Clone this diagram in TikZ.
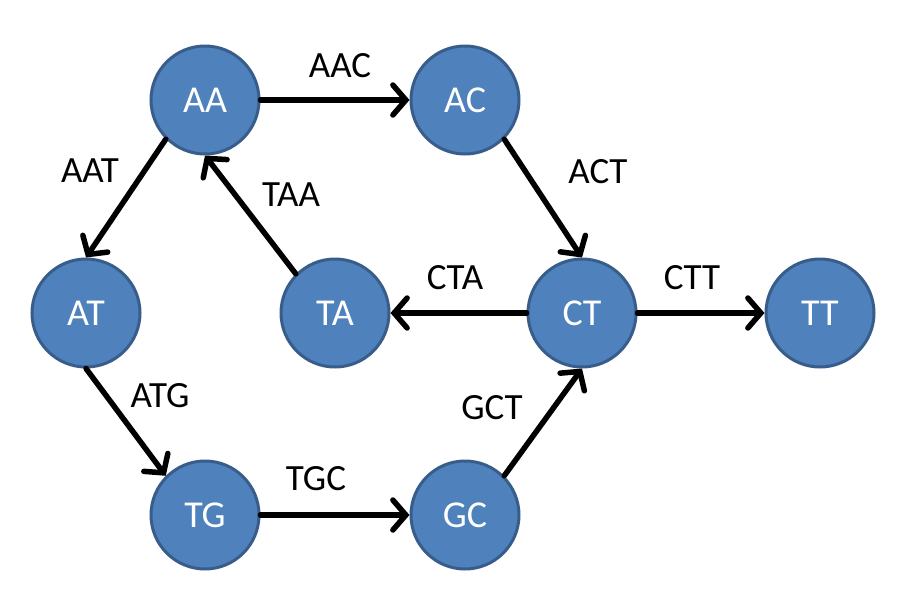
\documentclass[tikz,border=0pt]{standalone}
\usepackage{fontspec}
\setmainfont{Carlito}
\usetikzlibrary{arrows.meta}
\definecolor{NodeBlue}{RGB}{79,129,189}
\definecolor{NodeEdge}{RGB}{56,93,138}

\begin{document}
\begin{tikzpicture}[x=1pt, y=-1pt,
    kmer/.style={circle, draw=NodeEdge, line width=3pt, fill=NodeBlue,
                 minimum size=108pt, inner sep=0pt, text=white,
                 font=\fontsize{38}{42}\selectfont},
    lbl/.style={font=\fontsize{37}{42}\selectfont},
    arrow/.style={-{Straight Barb[length=13pt, width=30pt, line cap=round]},
                  line width=5.5pt, line cap=round}
]
    \useasboundingbox (0,0) rectangle (906,598);

    \node[kmer] (AA) at (205,100) {AA};
    \node[kmer] (AC) at (465,100) {AC};
    \node[kmer] (AT) at (86,313)  {AT};
    \node[kmer] (TA) at (335,313) {TA};
    \node[kmer] (CT) at (582,313) {CT};
    \node[kmer] (TT) at (820,313) {TT};
    \node[kmer] (TG) at (205,515) {TG};
    \node[kmer] (GC) at (465,515) {GC};

    \draw[arrow] (AA) -- (AC);
    \draw[arrow] (AA.-135) -- (AT.north);
    \draw[arrow] (TA.135) -- (AA.south);
    \draw[arrow] (AC.-45) -- (CT.north);
    \draw[arrow] (CT) -- (TA);
    \draw[arrow] (CT) -- (TT);
    \draw[arrow] (AT.south) -- (TG.135);
    \draw[arrow] (TG) -- (GC);
    \draw[arrow] (GC.45) -- (CT.south);

    % edge labels
    \node[lbl] (lAAC) at (340,66)  {AAC};
    \node[lbl] (lAAT) at (90,171)  {AAT};
    \node[lbl] (lTAA) at (291,195) {TAA};
    \node[lbl] (lACT) at (598,172) {ACT};
    \node[lbl] (lCTA) at (455,278) {CTA};
    \node[lbl] (lCTT) at (692,278) {CTT};
    \node[lbl] (lATG) at (160,396) {ATG};
    \node[lbl] (lGCT) at (492,408) {GCT};
    \node[lbl] (lTGC) at (316,479) {TGC};
\end{tikzpicture}
\end{document}
